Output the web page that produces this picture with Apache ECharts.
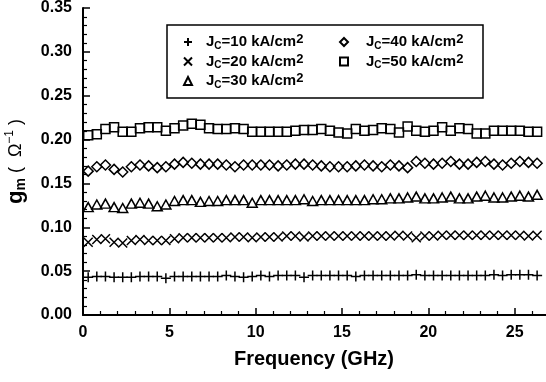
<!DOCTYPE html>
<html>
<head>
<meta charset="utf-8">
<script src="https://cdn.jsdelivr.net/npm/echarts@6/dist/echarts.min.js"></script>
<style>
  html, body { margin: 0; padding: 0; background: #fff; }
  #main { width: 546px; height: 382px; }
</style>
</head>
<body>
<div id="main"></div>
<script>
// frequency points (GHz), every 0.5 GHz
let freq = [];
for (let k = 0; k < 53; k++) freq.push(+(0.3 + k * 0.5).toFixed(1));

// gm values (1/Ohm)
let jc10 = [0.043, 0.044, 0.044, 0.043, 0.043, 0.043, 0.044, 0.044, 0.044, 0.042,
    0.044, 0.044, 0.044, 0.044, 0.044, 0.044, 0.045, 0.044, 0.043, 0.044,
    0.045, 0.044, 0.045, 0.045, 0.045, 0.043, 0.045, 0.045, 0.045, 0.045,
    0.045, 0.044, 0.045, 0.045, 0.045, 0.045, 0.045, 0.045, 0.046, 0.045,
    0.045, 0.045, 0.045, 0.045, 0.045, 0.045, 0.045, 0.046, 0.045, 0.046,
    0.046, 0.046, 0.045];
let jc20 = [0.083, 0.086, 0.087, 0.083, 0.082, 0.085, 0.086, 0.085, 0.085, 0.085,
    0.087, 0.088, 0.088, 0.088, 0.088, 0.088, 0.088, 0.089, 0.089, 0.088,
    0.089, 0.089, 0.089, 0.090, 0.090, 0.089, 0.090, 0.090, 0.090, 0.090,
    0.090, 0.090, 0.090, 0.090, 0.090, 0.090, 0.091, 0.090, 0.088, 0.090,
    0.090, 0.091, 0.091, 0.091, 0.091, 0.091, 0.091, 0.091, 0.091, 0.091,
    0.091, 0.090, 0.091];
let jc30 = [0.123, 0.126, 0.127, 0.123, 0.122, 0.127, 0.128, 0.127, 0.124, 0.126,
    0.130, 0.131, 0.131, 0.129, 0.130, 0.130, 0.131, 0.131, 0.131, 0.128,
    0.131, 0.131, 0.131, 0.131, 0.131, 0.132, 0.130, 0.131, 0.131, 0.131,
    0.131, 0.131, 0.131, 0.132, 0.132, 0.133, 0.133, 0.134, 0.135, 0.133,
    0.133, 0.134, 0.135, 0.133, 0.133, 0.135, 0.136, 0.134, 0.134, 0.135,
    0.136, 0.135, 0.137];
let jc40 = [0.164, 0.169, 0.171, 0.166, 0.163, 0.169, 0.171, 0.170, 0.168, 0.169,
    0.172, 0.174, 0.173, 0.172, 0.172, 0.172, 0.171, 0.169, 0.171, 0.171,
    0.171, 0.171, 0.170, 0.171, 0.172, 0.172, 0.171, 0.170, 0.169, 0.169,
    0.169, 0.170, 0.171, 0.170, 0.169, 0.171, 0.170, 0.168, 0.175, 0.173,
    0.172, 0.173, 0.175, 0.172, 0.172, 0.174, 0.175, 0.172, 0.171, 0.173,
    0.175, 0.174, 0.173];
let jc50 = [0.205, 0.206, 0.212, 0.214, 0.209, 0.209, 0.213, 0.214, 0.214, 0.210,
    0.213, 0.216, 0.218, 0.217, 0.213, 0.212, 0.212, 0.213, 0.212, 0.209,
    0.209, 0.209, 0.209, 0.209, 0.210, 0.211, 0.211, 0.212, 0.210, 0.208,
    0.207, 0.212, 0.210, 0.211, 0.213, 0.212, 0.208, 0.215, 0.210, 0.209,
    0.210, 0.214, 0.210, 0.213, 0.212, 0.207, 0.207, 0.210, 0.210, 0.210,
    0.210, 0.209, 0.209];

let jcLevels = ['10', '20', '30', '40', '50'];
let yTicks = [0, 0.05, 0.10, 0.15, 0.20, 0.25, 0.30, 0.35];

let FONT = 'Liberation Sans, Arial, Helvetica, sans-serif';

function zip(ys) {
    return freq.map((f, i) => [f, ys[i]]);
}

// 图例文字: J 下标 C, cm 上标 2
function legendText(name) {
    let v = name.replace('Jc', '');
    return '{b|J}{sub|C}{b|=' + v + ' kA/cm}{sup|2}';
}

let legendRich = {
    b: { fontFamily: FONT, fontWeight: 'bold', fontSize: 15, lineHeight: 18, color: '#000' },
    sub: { fontFamily: FONT, fontWeight: 'bold', fontSize: 10, lineHeight: 8, verticalAlign: 'bottom', color: '#000' },
    sup: { fontFamily: FONT, fontWeight: 'bold', fontSize: 13, lineHeight: 8, verticalAlign: 'top', color: '#000' }
};

let symbols = [
    'path://M5,0L5,10M0,5L10,5',      // +
    'path://M0,0L10,10M10,0L0,10',    // x
    'triangle',
    'diamond',
    'rect'
];
let sizes = [10, 9, [10, 9], [10, 10], 9];
let allData = [jc10, jc20, jc30, jc40, jc50];

let myChart = echarts.init(document.getElementById('main'));

let option = {
    animation: false,
    backgroundColor: '#fff',
    grid: {
        left: 83,
        top: 8,
        right: -55,   // 轴延伸到画布外, 只显示到约 26.8 GHz
        bottom: 67,
        outerBoundsMode: 'none'
    },
    xAxis: {
        type: 'value',
        min: 0,
        max: 30,
        interval: 5,
        name: 'Frequency (GHz)',
        nameLocation: 'middle',
        nameGap: 34,
        nameTextStyle: {
            fontFamily: FONT, fontWeight: 'bold', fontSize: 20, color: '#000',
            padding: [0, 56, 0, 0]   // 标题居中于可见部分
        },
        axisLine: { lineStyle: { color: '#000', width: 2 } },
        axisTick: { inside: true, length: 7, lineStyle: { color: '#000', width: 1.5 } },
        minorTick: { show: true, splitNumber: 5, length: 4, lineStyle: { color: '#000', width: 1.2 } },
        splitLine: { show: false },
        axisLabel: {
            margin: 10,
            fontFamily: FONT, fontWeight: 'bold', fontSize: 16, color: '#000'
        }
    },
    yAxis: {
        type: 'value',
        min: yTicks[0],
        max: yTicks[yTicks.length - 1],
        interval: 0.05,
        name: '{g|g}{s|m}{o| (  Ω}{p|−1}{o| )}',
        nameLocation: 'middle',
        nameRotate: 90,
        nameGap: 55,
        nameTextStyle: {
            color: '#000',
            rich: {
                g: { fontFamily: FONT, fontWeight: 'bold', fontSize: 22, lineHeight: 24, color: '#000' },
                s: { fontFamily: FONT, fontWeight: 'bold', fontSize: 14, lineHeight: 10, verticalAlign: 'bottom', color: '#000' },
                o: { fontFamily: FONT, fontSize: 18, lineHeight: 24, color: '#000' },
                p: { fontFamily: FONT, fontSize: 12, lineHeight: 10, verticalAlign: 'top', color: '#000' }
            }
        },
        axisLine: { show: true, lineStyle: { color: '#000', width: 2 } },
        axisTick: { show: true, inside: true, length: 7, lineStyle: { color: '#000', width: 1.5 } },
        minorTick: { show: true, splitNumber: 5, length: 4, lineStyle: { color: '#000', width: 1.2 } },
        splitLine: { show: false },
        axisLabel: {
            margin: 11,
            fontFamily: FONT, fontWeight: 'bold', fontSize: 16, color: '#000',
            formatter: v => v.toFixed(2)
        }
    },
    legend: [{
        data: ['Jc10', 'Jc20', 'Jc30'],
        orient: 'vertical',
        left: 183,
        top: 33,
        padding: 0,
        itemWidth: 8,
        itemHeight: 8,
        itemGap: 1.5,
        formatter: legendText,
        textStyle: { padding: [0, 0, 0, 9], rich: legendRich }
    }, {
        data: ['Jc40', 'Jc50'],
        orient: 'vertical',
        left: 339,
        top: 33,
        padding: 0,
        itemWidth: 8,
        itemHeight: 8,
        itemGap: 1.5,
        formatter: legendText,
        textStyle: { padding: [0, 0, 0, 13], rich: legendRich }
    }],
    graphic: [{
        type: 'rect',
        shape: { x: 167, y: 25, width: 316, height: 73 },
        style: { fill: '#fff', stroke: '#000', lineWidth: 1.5 },
        z: 0
    }],
    series: allData.map((d, i) => ({
        name: 'Jc' + jcLevels[i],
        type: 'scatter',
        data: zip(d),
        symbol: symbols[i],
        symbolSize: sizes[i],
        itemStyle: {
            color: 'rgba(255,255,255,0)',
            borderColor: '#000',
            borderWidth: 1.5,
            opacity: 1
        },
        z: 3
    }))
};

myChart.setOption(option);
</script>
</body>
</html>
